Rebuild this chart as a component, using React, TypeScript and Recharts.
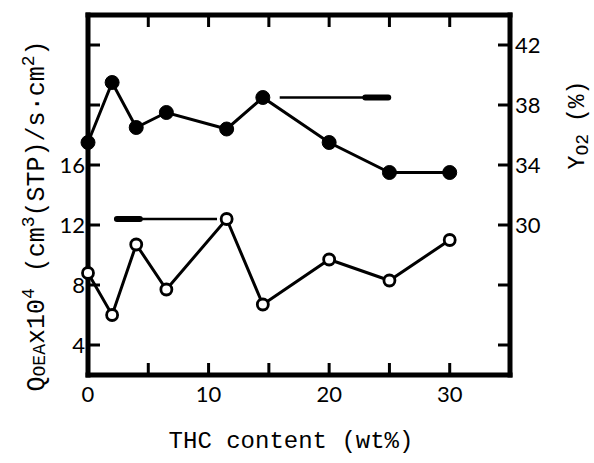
import React from 'react';
import { LineChart, Line, XAxis, YAxis, ReferenceLine, Customized } from 'recharts';

// THC content (wt%)
const thc = [0, 2, 4, 6.5, 11.5, 14.5, 20, 25, 30];
// Q_OEA x 10^4 (open circles, left axis)
const qOEA = [8.8, 6.0, 10.7, 7.7, 12.4, 6.7, 9.7, 8.3, 11.0];
// Y_O2 (%) (filled circles, right axis)
const yO2 = [35.5, 39.5, 36.5, 37.5, 36.4, 38.5, 35.5, 33.5, 33.5];

const xTicks = [0, 5, 10, 15, 20, 25, 30];
const xTickLabels = ['0', '', '10', '', '20', '', '30'];
const leftTicks = [4, 8, 12, 16, 20, 24];
const leftTickLabels = ['4', '8', '12', '16', '', ''];
const rightTicks = [22, 26, 30, 34, 38, 42];
const rightTickLabels = ['', '', '30', '34', '38', '42'];

// arrow annotations: [xStart, xEnd, y]
const rightArrow = [15.9, 25.1, 38.5];
const leftArrow = [2.2, 10.7, 12.4];

const data = thc.map((x, i) => ({ x, q: qOEA[i], y: yO2[i] }));

const axisLine = { stroke: '#000', strokeWidth: 5, strokeLinecap: 'square' as const };
const tickLine = { stroke: '#000', strokeWidth: 3 };
const tickFont = { fill: '#000', fontSize: 22, fontFamily: 'Lato, "DejaVu Sans", sans-serif' };
const titleFont = '"Liberation Mono", "DejaVu Sans Mono", monospace';

const Titles = () => (
  <g>
    <text
      x={291}
      y={448}
      textAnchor="middle"
      fontFamily={titleFont}
      fontSize={24}
      fill="#000"
    >
      THC content (wt%)
    </text>
    <text
      transform="translate(44,216) rotate(-90)"
      textAnchor="middle"
      fontFamily={titleFont}
      fontSize={25}
      fill="#000"
    >
      <tspan>Q</tspan>
      <tspan fontSize={18} dy={1}>OEA</tspan>
      <tspan dy={-1}>x10</tspan>
      <tspan fontSize={18} dy={-10}>4</tspan>
      <tspan dy={10} dx={16}>(cm</tspan>
      <tspan fontSize={18} dy={-10}>3</tspan>
      <tspan dy={10}>(STP)/s·cm</tspan>
      <tspan fontSize={18} dy={-10}>2</tspan>
      <tspan dy={10}>)</tspan>
    </text>
    <text
      transform="translate(584,125) rotate(-90)"
      textAnchor="middle"
      fontFamily={titleFont}
      fontSize={23}
      fill="#000"
    >
      <tspan>Y</tspan>
      <tspan fontSize={18} dy={4}>O2</tspan>
      <tspan dy={-4} dx={12}>(%)</tspan>
    </text>
  </g>
);

export default function App() {
  return (
    <div style={{ position: 'absolute', left: 0, top: 0, background: '#fff' }}>
      <LineChart
        width={594}
        height={463}
        data={data}
        margin={{ top: 5, right: 24, bottom: 58, left: 28 }}
      >
        <XAxis
          dataKey="x"
          type="number"
          domain={[0, 35]}
          ticks={xTicks}
          tickFormatter={(v: number) => xTickLabels[xTicks.indexOf(v)] ?? ''}
          axisLine={axisLine}
          tickLine={tickLine}
          tickSize={-12}
          tickMargin={23}
          tick={tickFont}
          height={30}
          interval={0}
        />
        <XAxis
          xAxisId="top"
          orientation="top"
          dataKey="x"
          type="number"
          domain={[0, 35]}
          ticks={xTicks}
          tickFormatter={() => ''}
          axisLine={axisLine}
          tickLine={tickLine}
          tickSize={-12}
          height={10}
          interval={0}
        />
        <YAxis
          yAxisId="left"
          orientation="left"
          type="number"
          domain={[2, 26]}
          ticks={leftTicks}
          tickFormatter={(v: number) => leftTickLabels[leftTicks.indexOf(v)] ?? ''}
          axisLine={axisLine}
          tickLine={tickLine}
          tickSize={-12}
          tickMargin={15}
          tick={tickFont}
          width={60}
          interval={0}
        />
        <YAxis
          yAxisId="right"
          orientation="right"
          type="number"
          domain={[20, 44]}
          ticks={rightTicks}
          tickFormatter={(v: number) => rightTickLabels[rightTicks.indexOf(v)] ?? ''}
          axisLine={axisLine}
          tickLine={tickLine}
          tickSize={-12}
          tickMargin={17}
          tick={tickFont}
          width={60}
          interval={0}
        />
        <ReferenceLine
          yAxisId="right"
          segment={[{ x: rightArrow[0], y: rightArrow[2] }, { x: rightArrow[1], y: rightArrow[2] }]}
          stroke="#000"
          strokeWidth={2.5}
        />
        <ReferenceLine
          yAxisId="right"
          segment={[{ x: rightArrow[1] - 2.1, y: rightArrow[2] }, { x: rightArrow[1] - 0.2, y: rightArrow[2] }]}
          stroke="#000"
          strokeWidth={6}
          strokeLinecap="round"
        />
        <ReferenceLine
          yAxisId="left"
          segment={[{ x: leftArrow[0], y: leftArrow[2] }, { x: leftArrow[1], y: leftArrow[2] }]}
          stroke="#000"
          strokeWidth={2.5}
        />
        <ReferenceLine
          yAxisId="left"
          segment={[{ x: leftArrow[0] + 0.2, y: leftArrow[2] }, { x: leftArrow[0] + 2.1, y: leftArrow[2] }]}
          stroke="#000"
          strokeWidth={6}
          strokeLinecap="round"
        />
        <Line
          yAxisId="right"
          dataKey="y"
          stroke="#000"
          strokeWidth={3}
          dot={{ r: 7, fill: '#000', stroke: '#000', strokeWidth: 1 }}
          isAnimationActive={false}
        />
        <Line
          yAxisId="left"
          dataKey="q"
          stroke="#000"
          strokeWidth={3}
          dot={{ r: 5.5, fill: '#fff', stroke: '#000', strokeWidth: 2.8 }}
          isAnimationActive={false}
        />
        <Customized component={Titles} />
      </LineChart>
    </div>
  );
}
